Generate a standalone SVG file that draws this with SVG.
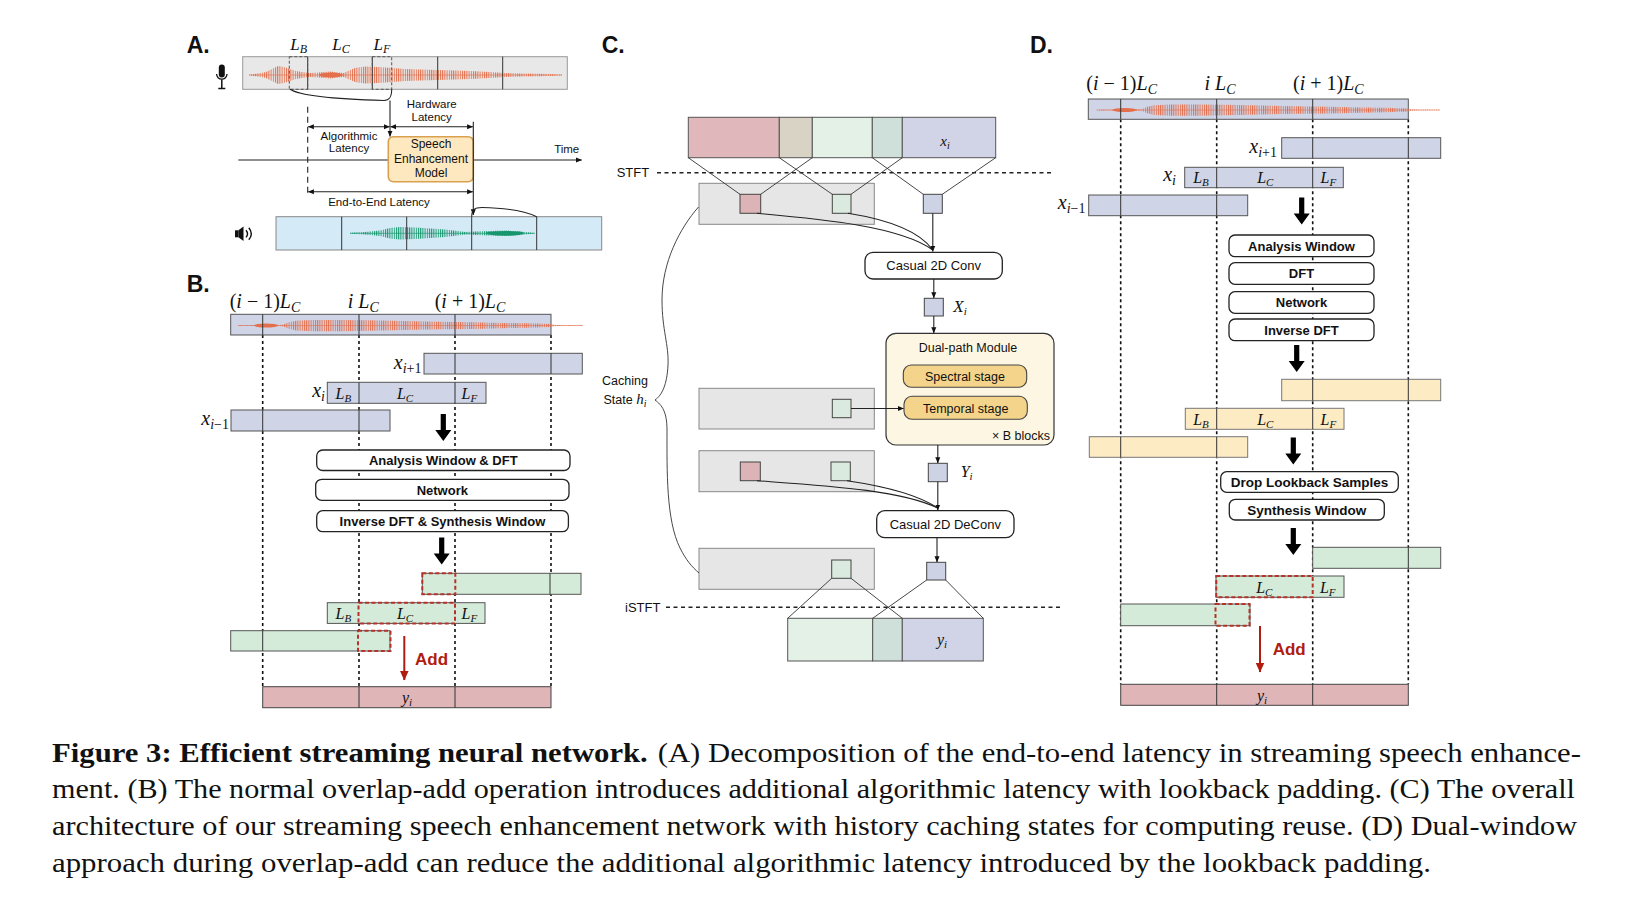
<svg xmlns="http://www.w3.org/2000/svg" xmlns:xlink="http://www.w3.org/1999/xlink" width="1628" height="910" viewBox="0 0 1628 910">
<style>
.sans{font-family:"Liberation Sans",Arial,sans-serif;fill:#111}
.math{font-family:"Liberation Serif","Times New Roman",serif;font-style:italic;fill:#111}
.rom{font-style:normal}
.plbl{font-family:"Liberation Sans",Arial,sans-serif;font-weight:bold;font-size:23px;fill:#111}
.lav{fill:#cfd4e6;stroke:#555;stroke-width:1}
.grn{fill:#d4ebd9;stroke:#555;stroke-width:1}
.yel{fill:#fdebc4;stroke:#777;stroke-width:1}
.pnk{fill:#e0b5b8;stroke:#444;stroke-width:1}
.div{stroke:#333;stroke-width:1;fill:none}
.dot{stroke:#111;stroke-width:1.6;stroke-dasharray:3 3;fill:none}
.rdash{fill:none;stroke:#b5332a;stroke-width:2;stroke-dasharray:4 2.5}
.box{fill:#fff;stroke:#222;stroke-width:1.3}
.btxt{font-family:"Liberation Sans",Arial,sans-serif;font-weight:bold;font-size:13px;text-anchor:middle;fill:#111}
.ctxt{font-family:"Liberation Sans",Arial,sans-serif;font-size:13px;text-anchor:middle;fill:#111}
.atxt{font-family:"Liberation Sans",Arial,sans-serif;font-size:11.5px;text-anchor:middle;fill:#111}
.cache{fill:#e6e6e6;stroke:#888;stroke-width:1}
.sqP{fill:#dcb3b6;stroke:#444;stroke-width:1}
.sqG{fill:#dbeadf;stroke:#444;stroke-width:1}
.sqB{fill:#cdd2e4;stroke:#444;stroke-width:1}
.conn{stroke:#222;stroke-width:1.1;fill:none}
.thin{stroke:#333;stroke-width:0.9;fill:none}
.stft{stroke:#222;stroke-width:1.5;stroke-dasharray:4 3.5;fill:none}
.cap{font-family:"Liberation Serif","Times New Roman",serif;font-size:28px;fill:#111}
.add{font-family:"Liberation Sans",Arial,sans-serif;font-weight:bold;font-size:17px;fill:#b01c10}
</style>
<defs>
<pattern id="stO" patternUnits="userSpaceOnUse" width="2.2" height="4"><rect width="1" height="4" fill="#e46f4c"/></pattern>
<pattern id="stG" patternUnits="userSpaceOnUse" width="2.2" height="4"><rect width="1" height="4" fill="#17966d"/></pattern>
<marker id="ah" viewBox="0 0 10 10" refX="9.5" refY="5" markerWidth="6" markerHeight="6" markerUnits="userSpaceOnUse" orient="auto-start-reverse"><path d="M0,0.8 L10,5 L0,9.2 z" fill="#111"/></marker>
<marker id="ahR" viewBox="0 0 10 10" refX="9.5" refY="5" markerWidth="10" markerHeight="10" markerUnits="userSpaceOnUse" orient="auto"><path d="M0,0.5 L10,5 L0,9.5 z" fill="#b01c10"/></marker>
<path id="bigArrow" d="M-2.6,0 h5.2 v16 h5.4 l-8,11 l-8,-11 h5.4 z" fill="#000"/>
<g id="wave">
<polygon fill="url(#stO)" points="0,-0.5 18,-0.8 45,-1 50,-4 58,-6.5 75,-7.5 100,-7.5 130,-7 165,-6 200,-5 235,-4.5 265,-3.5 290,-3 313,-2 318,-0.6 345,-0.4 345,0.4 318,0.6 313,2 290,3 265,3.5 235,4.5 200,5 165,6 130,7 100,7.5 75,7.5 58,6.5 50,4 45,1 18,0.8 0,0.5"/>
<ellipse cx="28" cy="0" rx="12" ry="2.6" fill="#e46f4c"/>
<line x1="0" y1="0" x2="345" y2="0" stroke="#e46f4c" stroke-width="0.9" opacity="0.7"/>
</g>
</defs>
<rect width="1628" height="910" fill="#fff"/>

<!-- ============ PANEL A ============ -->
<g id="panelA">
<text class="plbl" x="186.7" y="53.3">A.</text>
<g id="mic" fill="#111">
<rect x="218.8" y="64.5" width="6" height="13" rx="3"/>
<path d="M216.6,74 a5.2,5.2 0 0 0 10.4,0" fill="none" stroke="#111" stroke-width="1.3"/>
<path d="M221.8,79.4 v8.5 M218.3,88.5 h7" stroke="#111" stroke-width="1.5"/>
</g>
<g id="inputBar">
<rect x="242.7" y="56.7" width="324.6" height="32.6" fill="#e8e8e8" stroke="#999"/>
<polygon fill="url(#stO)" points="249,74.4 258,73.5 266,72 272,69 278,66 284,67 290,69 296,71 302,72 310,73 318,72.5 330,71.5 344,73 348,71 355,68 365,66.5 378,67 392,68 405,69 420,69.5 437,70 455,70.5 470,71 490,72 505,73 520,73.5 540,73.8 562,74.4 562,75.6 540,76.2 520,76.5 505,77 490,78 470,79 455,79.5 437,80 420,80.5 405,81 392,82 378,83 365,83.5 355,82 348,79 344,77 330,78.5 318,77.5 310,77 302,78 296,79 290,81 284,83 278,84 272,81 266,78 258,76.5 249,75.6"/>
<ellipse cx="331" cy="75" rx="12" ry="2.6" fill="#e46f4c"/>
<line x1="249" y1="75" x2="562" y2="75" stroke="#e46f4c" stroke-width="0.9" opacity="0.7"/>
<path class="div" d="M307.7,56.7V89.3 M372.3,56.7V89.3 M437.7,56.7V89.3 M502.7,56.7V89.3"/>
<rect x="289.3" y="56.7" width="18.4" height="32.6" fill="none" stroke="#555" stroke-dasharray="3 2"/>
<rect x="372.3" y="56.7" width="19.4" height="32.6" fill="none" stroke="#555" stroke-dasharray="3 2"/>
</g>
<text class="math" x="298.7" y="50" text-anchor="middle" font-size="17">L<tspan font-size="12" dy="3">B</tspan></text>
<text class="math" x="341" y="50" text-anchor="middle" font-size="17">L<tspan font-size="12" dy="3">C</tspan></text>
<text class="math" x="382" y="50" text-anchor="middle" font-size="17">L<tspan font-size="12" dy="3">F</tspan></text>
<text class="atxt" x="431.7" y="107.5">Hardware</text>
<text class="atxt" x="431.7" y="120.5">Latency</text>
<text class="atxt" x="349" y="140">Algorithmic</text>
<text class="atxt" x="349" y="152.3">Latency</text>
<text class="atxt" x="566.7" y="152.5">Time</text>
<text class="atxt" x="379" y="206">End-to-End Latency</text>
<line id="timeAxis" class="conn" x1="238.3" y1="160" x2="581.7" y2="160" marker-end="url(#ah)"/>
<g id="seModel">
<rect x="388.3" y="136.7" width="85" height="45" rx="5" fill="#fde8c0" stroke="#d9a04e" stroke-width="1.6"/>
<text class="atxt" x="431" y="148" style="font-size:12px">Speech</text>
<text class="atxt" x="431" y="162.5" style="font-size:12px">Enhancement</text>
<text class="atxt" x="431" y="176.5" style="font-size:12px">Model</text>
</g>
<g id="outputBar">
<rect x="276" y="216.7" width="325.7" height="33.3" fill="#d4eaf6" stroke="#888"/>
<polygon fill="url(#stG)" points="350,232.8 365,232 380,230.5 390,228 400,227 415,227.5 430,228.5 445,229.5 458,231 465,232 475,231.5 490,231 505,230.5 520,231.5 530,232.5 535,233 535,233.6 530,234.1 520,235.1 505,236.1 490,235.6 475,235.1 465,234.6 458,235.6 445,237.1 430,238.1 415,239.1 400,239.6 390,238.6 380,236.1 365,234.6 350,233.8"/>
<ellipse cx="505" cy="233.3" rx="19" ry="2.4" fill="#17966d"/>
<line x1="350" y1="233.3" x2="535" y2="233.3" stroke="#17966d" stroke-width="0.9" opacity="0.7"/>
<path class="div" d="M341.7,216.7V250 M406.7,216.7V250 M471.7,216.7V250 M536.7,216.7V250"/>
</g>
<g id="speaker" fill="#111">
<rect x="235" y="230.3" width="3.4" height="7"/>
<polygon points="238.4,230.3 243.5,226.5 243.5,241 238.4,237.3"/>
<path d="M246,230.2 q3,3.6 0,7.2 M248.8,227.8 q5,6 0,12" fill="none" stroke="#111" stroke-width="1.4"/>
</g>
</g>

<!-- ============ PANEL B ============ -->
<g id="panelB">
<text class="plbl" x="186.7" y="291.7">B.</text>
<text class="math" x="265" y="308.3" text-anchor="middle" font-size="20"><tspan class="rom">(</tspan>i<tspan class="rom"> − 1)</tspan>L<tspan font-size="14" dy="4">C</tspan></text>
<text class="math" x="363.3" y="308.3" text-anchor="middle" font-size="20">i L<tspan font-size="14" dy="4">C</tspan></text>
<text class="math" x="470" y="308.3" text-anchor="middle" font-size="20"><tspan class="rom">(</tspan>i<tspan class="rom"> + 1)</tspan>L<tspan font-size="14" dy="4">C</tspan></text>
<path class="dot" d="M262.7,335V686.7 M359,335V686.7 M455,335V686.7 M551,335V686.7"/>
<g id="B_top">
<rect class="lav" x="230.7" y="314.3" width="320.3" height="20.7"/>
<use xlink:href="#wave" href="#wave" transform="translate(238,325.5) scale(1,0.75)"/>
<path class="div" d="M262.7,314.3V335 M359,314.3V335 M455,314.3V335"/>
</g>
<g id="B_xip1">
<rect class="lav" x="424" y="353.3" width="158.3" height="20.7"/>
<path class="div" d="M455,353.3V374 M551,353.3V374"/>
<text class="math" x="421.5" y="369" text-anchor="end" font-size="20">x<tspan font-size="14" dy="4">i</tspan><tspan class="rom" font-size="14">+1</tspan></text>
</g>
<g id="B_xi">
<rect class="lav" x="327.3" y="382.3" width="158.7" height="21"/>
<path class="div" d="M359,382.3V403.3 M455,382.3V403.3"/>
<text class="math" x="325" y="397" text-anchor="end" font-size="20">x<tspan font-size="14" dy="4">i</tspan></text>
<text class="math" x="343.3" y="398.5" text-anchor="middle" font-size="16">L<tspan font-size="11" dy="3">B</tspan></text>
<text class="math" x="405" y="398.5" text-anchor="middle" font-size="16">L<tspan font-size="11" dy="3">C</tspan></text>
<text class="math" x="469.3" y="398.5" text-anchor="middle" font-size="16">L<tspan font-size="11" dy="3">F</tspan></text>
</g>
<g id="B_xim1">
<rect class="lav" x="231" y="410" width="159" height="21"/>
<path class="div" d="M262.7,410V431 M359,410V431"/>
<text class="math" x="229" y="425" text-anchor="end" font-size="20">x<tspan font-size="14" dy="4">i</tspan><tspan class="rom" font-size="14">−1</tspan></text>
</g>
<use xlink:href="#bigArrow" href="#bigArrow" x="443.3" y="414"/>
<g id="B_ana"><rect class="box" x="316.7" y="450" width="253.3" height="20.5" rx="6"/><text class="btxt" x="443.3" y="465">Analysis Window &amp; DFT</text></g>
<g id="B_net"><rect class="box" x="315.7" y="479.3" width="253.3" height="21" rx="6"/><text class="btxt" x="442.3" y="494.5">Network</text></g>
<g id="B_inv"><rect class="box" x="316.7" y="510.7" width="251.7" height="21" rx="6"/><text class="btxt" x="442.5" y="525.8">Inverse DFT &amp; Synthesis Window</text></g>
<use xlink:href="#bigArrow" href="#bigArrow" x="441.7" y="537.5"/>
<g id="B_g1">
<rect class="grn" x="422.3" y="573.3" width="158.7" height="21"/>
<path class="div" d="M550,573.3V594.3"/>
<rect class="rdash" x="422.3" y="573.3" width="33" height="21"/>
</g>
<g id="B_g2">
<rect class="grn" x="327.3" y="602.7" width="157.7" height="20.7"/>
<rect class="rdash" x="358.5" y="602.7" width="96.5" height="20.7"/>
<text class="math" x="343.3" y="618.5" text-anchor="middle" font-size="16">L<tspan font-size="11" dy="3">B</tspan></text>
<text class="math" x="405" y="618.5" text-anchor="middle" font-size="16">L<tspan font-size="11" dy="3">C</tspan></text>
<text class="math" x="469.3" y="618.5" text-anchor="middle" font-size="16">L<tspan font-size="11" dy="3">F</tspan></text>
</g>
<g id="B_g3">
<rect class="grn" x="230.7" y="630.7" width="159.3" height="20.3"/>
<path class="div" d="M262.7,630.7V651"/>
<rect class="rdash" x="358" y="630.7" width="32.5" height="20.3"/>
</g>
<line x1="404.3" y1="636" x2="404.3" y2="680" stroke="#b01c10" stroke-width="2" marker-end="url(#ahR)"/>
<text class="add" x="415" y="665">Add</text>
<g id="B_out">
<rect class="pnk" x="262.7" y="686.7" width="288.3" height="21"/>
<path class="div" d="M359,686.7V707.7 M455,686.7V707.7"/>
<text class="math" x="407" y="703" text-anchor="middle" font-size="16">y<tspan font-size="11" dy="3">i</tspan></text>
</g>
</g>

<!-- ============ PANEL C ============ -->
<g id="panelC">
<text class="plbl" x="601.7" y="53.3">C.</text>
<g id="C_input">
<rect x="688.3" y="117.3" width="91" height="40.4" fill="#e0b8bb" stroke="#555"/>
<rect x="779.3" y="117.3" width="33" height="40.4" fill="#d9d3c6" stroke="#555"/>
<rect x="812.3" y="117.3" width="60" height="40.4" fill="#e3f1e6" stroke="#555"/>
<rect x="872.3" y="117.3" width="30" height="40.4" fill="#cfdfda" stroke="#555"/>
<rect x="902.3" y="117.3" width="93.4" height="40.4" fill="#d0d4e6" stroke="#555"/>
<text class="math" x="945" y="146" text-anchor="middle" font-size="15">x<tspan font-size="10" dy="3">i</tspan></text>
</g>
<text class="ctxt" x="616.7" y="177" style="text-anchor:start">STFT</text>
<line class="stft" x1="657" y1="172.7" x2="1053" y2="172.7"/>
<g id="C_cache1">
<rect class="cache" x="699" y="183.3" width="175.3" height="41"/>
<rect class="sqP" x="740" y="194.3" width="20.7" height="19"/>
<rect class="sqG" x="832.3" y="194.3" width="18.7" height="19"/>
</g>
<rect id="C_sqX" class="sqB" x="923.3" y="194.3" width="19" height="19"/>
<g id="C_conv"><rect class="box" x="865" y="252.3" width="137.3" height="26.7" rx="8"/><text class="ctxt" x="933.7" y="270.3">Casual 2D Conv</text></g>
<rect id="C_Xi" class="sqB" x="924.3" y="298.3" width="19" height="17.7"/>
<text class="math" x="953.3" y="311.5" font-size="17">X<tspan font-size="11" dy="3">i</tspan></text>
<g id="C_dual">
<rect x="886" y="333.3" width="168" height="111.7" rx="10" fill="#fdf6e3" stroke="#333" stroke-width="1.2"/>
<text class="ctxt" x="968" y="351.7" style="font-size:12.5px">Dual-path Module</text>
<rect x="903.3" y="365" width="123.4" height="22.3" rx="8" fill="#f4d48a" stroke="#444" stroke-width="1.1"/>
<text class="ctxt" x="965" y="380.5" style="font-size:12.5px">Spectral stage</text>
<rect x="904" y="396.3" width="123.3" height="23" rx="8" fill="#f4d48a" stroke="#444" stroke-width="1.1"/>
<text class="ctxt" x="965.7" y="412.5" style="font-size:12.5px">Temporal stage</text>
<text class="ctxt" x="1050" y="439.5" style="font-size:12.5px;text-anchor:end">× B blocks</text>
</g>
<g id="C_cache2">
<rect class="cache" x="699" y="388.3" width="175.3" height="40.7"/>
<rect class="sqG" x="832.3" y="399.3" width="18.7" height="18.4"/>
</g>
<rect id="C_Yi" class="sqB" x="928.3" y="463.3" width="19" height="18.4"/>
<text class="math" x="960.7" y="476.5" font-size="16">Y<tspan font-size="11" dy="3">i</tspan></text>
<g id="C_cache3">
<rect class="cache" x="699" y="450.7" width="175.3" height="41"/>
<rect class="sqP" x="740.3" y="462" width="20" height="18.7"/>
<rect class="sqG" x="831" y="462" width="19.3" height="18.7"/>
</g>
<g id="C_deconv"><rect class="box" x="876.7" y="510.7" width="137.3" height="27" rx="8"/><text class="ctxt" x="945.3" y="528.8">Casual 2D DeConv</text></g>
<g id="C_cache4">
<rect class="cache" x="699" y="548.3" width="175.3" height="41"/>
<rect class="sqG" x="831.7" y="560" width="19.3" height="18.3"/>
</g>
<rect id="C_yi" class="sqB" x="926.7" y="562.3" width="19" height="17.7"/>
<text class="ctxt" x="625" y="612" style="text-anchor:start">iSTFT</text>
<line class="stft" x1="666" y1="607.3" x2="1063" y2="607.3"/>
<g id="C_output">
<rect x="787.7" y="618.3" width="85" height="42.7" fill="#e3f1e6" stroke="#555"/>
<rect x="872.7" y="618.3" width="29.6" height="42.7" fill="#cfdfda" stroke="#555"/>
<rect x="902.3" y="618.3" width="81" height="42.7" fill="#d0d4e6" stroke="#555"/>
<text class="math" x="942" y="645" text-anchor="middle" font-size="16">y<tspan font-size="11" dy="3">i</tspan></text>
</g>
<path id="C_brace" class="thin" stroke-width="1.2" d="M698.5,207 C680,228 662,262 662,300 C662,330 669,345 668,365 C667,385 662,395 655,400 C662,405 667,412 667,430 C667,470 666,520 680,548 C686,560 692,567 699,573"/>
<text class="ctxt" x="625" y="385" style="font-size:12.5px">Caching</text>
<text class="ctxt" x="625" y="403.5" style="font-size:12.5px">State <tspan class="math" font-size="15">h</tspan><tspan class="math" font-size="10" dy="3">i</tspan></text>
</g>

<!-- ============ PANEL D ============ -->
<g id="panelD">
<text class="plbl" x="1030" y="53.3">D.</text>
<text class="math" x="1121.7" y="90" text-anchor="middle" font-size="20"><tspan class="rom">(</tspan>i<tspan class="rom"> − 1)</tspan>L<tspan font-size="14" dy="4">C</tspan></text>
<text class="math" x="1220" y="90" text-anchor="middle" font-size="20">i L<tspan font-size="14" dy="4">C</tspan></text>
<text class="math" x="1328.3" y="90" text-anchor="middle" font-size="20"><tspan class="rom">(</tspan>i<tspan class="rom"> + 1)</tspan>L<tspan font-size="14" dy="4">C</tspan></text>
<path class="dot" d="M1120.7,119.3V684.3 M1216.7,119.3V684.3 M1312.7,119.3V684.3 M1408.3,119.3V684.3"/>
<g id="D_top">
<rect class="lav" x="1088.3" y="99" width="320" height="20.3"/>
<use xlink:href="#wave" href="#wave" transform="translate(1096.7,110) scale(0.995,0.75)"/>
<path class="div" d="M1120.7,99V119.3 M1216.7,99V119.3 M1312.7,99V119.3"/>
</g>
<g id="D_xip1">
<rect class="lav" x="1281.7" y="137.7" width="159" height="20.6"/>
<path class="div" d="M1312.7,137.7V158.3 M1408.3,137.7V158.3"/>
<text class="math" x="1277" y="153" text-anchor="end" font-size="20">x<tspan font-size="14" dy="4">i</tspan><tspan class="rom" font-size="14">+1</tspan></text>
</g>
<g id="D_xi">
<rect class="lav" x="1184.7" y="167.3" width="158.6" height="20.4"/>
<path class="div" d="M1216.7,167.3V187.7 M1312.7,167.3V187.7"/>
<text class="math" x="1176" y="181" text-anchor="end" font-size="20">x<tspan font-size="14" dy="4">i</tspan></text>
<text class="math" x="1201" y="182.5" text-anchor="middle" font-size="16">L<tspan font-size="11" dy="3">B</tspan></text>
<text class="math" x="1265.3" y="182.5" text-anchor="middle" font-size="16">L<tspan font-size="11" dy="3">C</tspan></text>
<text class="math" x="1328.3" y="182.5" text-anchor="middle" font-size="16">L<tspan font-size="11" dy="3">F</tspan></text>
</g>
<g id="D_xim1">
<rect class="lav" x="1088.7" y="195" width="159" height="20.7"/>
<path class="div" d="M1120.7,195V215.7 M1216.7,195V215.7"/>
<text class="math" x="1085.5" y="209" text-anchor="end" font-size="20">x<tspan font-size="14" dy="4">i</tspan><tspan class="rom" font-size="14">−1</tspan></text>
</g>
<use xlink:href="#bigArrow" href="#bigArrow" x="1301.7" y="197.5"/>
<g id="D_ana"><rect class="box" x="1229" y="235" width="145" height="21.7" rx="6"/><text class="btxt" x="1301.5" y="250.5">Analysis Window</text></g>
<g id="D_dft"><rect class="box" x="1229" y="262.7" width="145" height="21.6" rx="6"/><text class="btxt" x="1301.5" y="278">DFT</text></g>
<g id="D_net"><rect class="box" x="1229" y="291.7" width="145" height="21.6" rx="6"/><text class="btxt" x="1301.5" y="307">Network</text></g>
<g id="D_inv"><rect class="box" x="1229" y="319" width="145" height="21.7" rx="6"/><text class="btxt" x="1301.5" y="334.5">Inverse DFT</text></g>
<use xlink:href="#bigArrow" href="#bigArrow" x="1296.7" y="345"/>
<g id="D_y1">
<rect class="yel" x="1281.7" y="379.3" width="159" height="21.4"/>
<path class="div" d="M1312.7,379.3V400.7 M1408.3,379.3V400.7"/>
</g>
<g id="D_y2">
<rect class="yel" x="1185.3" y="408.3" width="158.7" height="21"/>
<path class="div" d="M1216.7,408.3V429.3 M1312.7,408.3V429.3"/>
<text class="math" x="1201" y="424.5" text-anchor="middle" font-size="16">L<tspan font-size="11" dy="3">B</tspan></text>
<text class="math" x="1265.3" y="424.5" text-anchor="middle" font-size="16">L<tspan font-size="11" dy="3">C</tspan></text>
<text class="math" x="1328.3" y="424.5" text-anchor="middle" font-size="16">L<tspan font-size="11" dy="3">F</tspan></text>
</g>
<g id="D_y3">
<rect class="yel" x="1089.3" y="436.7" width="158.4" height="20.6"/>
<path class="div" d="M1120.7,436.7V457.3 M1216.7,436.7V457.3"/>
</g>
<use xlink:href="#bigArrow" href="#bigArrow" x="1293.3" y="437.5"/>
<g id="D_drop"><rect class="box" x="1220.7" y="471.7" width="177.6" height="20.6" rx="6"/><text class="btxt" x="1309.5" y="487" style="font-size:13.5px">Drop Lookback Samples</text></g>
<g id="D_syn"><rect class="box" x="1229.3" y="499.3" width="155" height="20.7" rx="6"/><text class="btxt" x="1306.8" y="514.8" style="font-size:13.5px">Synthesis Window</text></g>
<use xlink:href="#bigArrow" href="#bigArrow" x="1293.3" y="528"/>
<g id="D_g1">
<rect class="grn" x="1312.7" y="547.3" width="128" height="21"/>
<path class="div" d="M1408.3,547.3V568.3"/>
</g>
<g id="D_g2">
<rect class="grn" x="1216" y="576" width="128" height="21.3"/>
<rect class="rdash" x="1216.3" y="576" width="96.4" height="21.3"/>
<text class="math" x="1264.3" y="592.5" text-anchor="middle" font-size="16">L<tspan font-size="11" dy="3">C</tspan></text>
<text class="math" x="1327.7" y="592.5" text-anchor="middle" font-size="16">L<tspan font-size="11" dy="3">F</tspan></text>
</g>
<g id="D_g3">
<rect class="grn" x="1120.7" y="604" width="129.3" height="21.7"/>
<rect class="rdash" x="1215.5" y="604" width="34" height="21.7"/>
</g>
<line x1="1260" y1="626" x2="1260" y2="672" stroke="#b01c10" stroke-width="2" marker-end="url(#ahR)"/>
<text class="add" x="1272.7" y="655">Add</text>
<g id="D_out">
<rect class="pnk" x="1120.7" y="684.3" width="287.6" height="21"/>
<path class="div" d="M1216.7,684.3V705.3 M1312.7,684.3V705.3"/>
<text class="math" x="1262" y="700.5" text-anchor="middle" font-size="16">y<tspan font-size="11" dy="3">i</tspan></text>
</g>
</g>

<!-- ============ CONNECTORS ============ -->
<g id="connectors">
<path class="conn" d="M290,89.3 C300,96 330,99 384,100.5 C389,100.5 391.7,98 391.7,89.3"/>
<line class="conn" x1="390" y1="100.5" x2="390" y2="136.5" marker-end="url(#ah)"/>
<line class="conn" x1="307.7" y1="106.7" x2="307.7" y2="195" stroke-dasharray="6 4" stroke-width="1.4"/>
<line class="conn" x1="308.2" y1="126.7" x2="389.5" y2="126.7" marker-start="url(#ah)" marker-end="url(#ah)"/>
<line class="conn" x1="390.5" y1="126.7" x2="472.8" y2="126.7" marker-start="url(#ah)" marker-end="url(#ah)"/>
<line class="conn" x1="308.2" y1="191.7" x2="472.8" y2="191.7" marker-start="url(#ah)" marker-end="url(#ah)"/>
<line class="conn" x1="473.3" y1="121.7" x2="473.3" y2="215" marker-end="url(#ah)"/>
<path class="conn" d="M471.7,216.7 C471.7,210 474,207.5 482,207.5 C505,208 525,211 536.7,216.7"/>
<path class="thin" d="M688.3,157.7 L740,194.3 M812.3,157.7 L760.7,194.3 M779.3,157.7 L832.3,194.3 M902.3,157.7 L851,194.3 M872.3,157.7 L923.3,194.3 M995.7,157.7 L942.3,194.3"/>
<path class="conn" d="M757,213.3 C820,219 900,226 932.8,250"/>
<path class="conn" d="M848,213.3 C890,220 920,232 932.8,250"/>
<line class="conn" x1="932.8" y1="213.3" x2="932.8" y2="251.5" marker-end="url(#ah)"/>
<line class="conn" x1="933.8" y1="279" x2="933.8" y2="298" marker-end="url(#ah)"/>
<line class="conn" x1="933.8" y1="316" x2="933.8" y2="333" marker-end="url(#ah)"/>
<line class="conn" x1="851" y1="408.5" x2="903.5" y2="408.5" marker-end="url(#ah)"/>
<line class="conn" x1="937.8" y1="445" x2="937.8" y2="463" marker-end="url(#ah)"/>
<path class="conn" d="M757,480.7 C830,486 900,490 937.8,508"/>
<path class="conn" d="M847,480.7 C890,487 920,496 937.8,508"/>
<line class="conn" x1="937.8" y1="481.7" x2="937.8" y2="510.2" marker-end="url(#ah)"/>
<line class="conn" x1="937" y1="537.7" x2="937" y2="562" marker-end="url(#ah)"/>
<path class="thin" d="M831.7,578.3 L787.7,618.3 M851,578.3 L902.3,618.3 M926.7,580 L872.7,618.3 M945.7,580 L983.3,618.3"/>
</g>

<!-- ============ CAPTION ============ -->
<g id="caption">
<text class="cap" x="52" y="761.7" textLength="1529" lengthAdjust="spacingAndGlyphs"><tspan font-weight="bold">Figure 3: Efficient streaming neural network.</tspan><tspan dx="9">(A) Decomposition of the end-to-end latency in streaming speech enhance-</tspan></text>
<text class="cap" x="52" y="798.3" textLength="1523" lengthAdjust="spacingAndGlyphs">ment. (B) The normal overlap-add operation introduces additional algorithmic latency with lookback padding. (C) The overall</text>
<text class="cap" x="52" y="835" textLength="1525" lengthAdjust="spacingAndGlyphs">architecture of our streaming speech enhancement network with history caching states for computing reuse. (D) Dual-window</text>
<text class="cap" x="52" y="871.7" textLength="1379" lengthAdjust="spacingAndGlyphs">approach during overlap-add can reduce the additional algorithmic latency introduced by the lookback padding.</text>
</g>
</svg>
